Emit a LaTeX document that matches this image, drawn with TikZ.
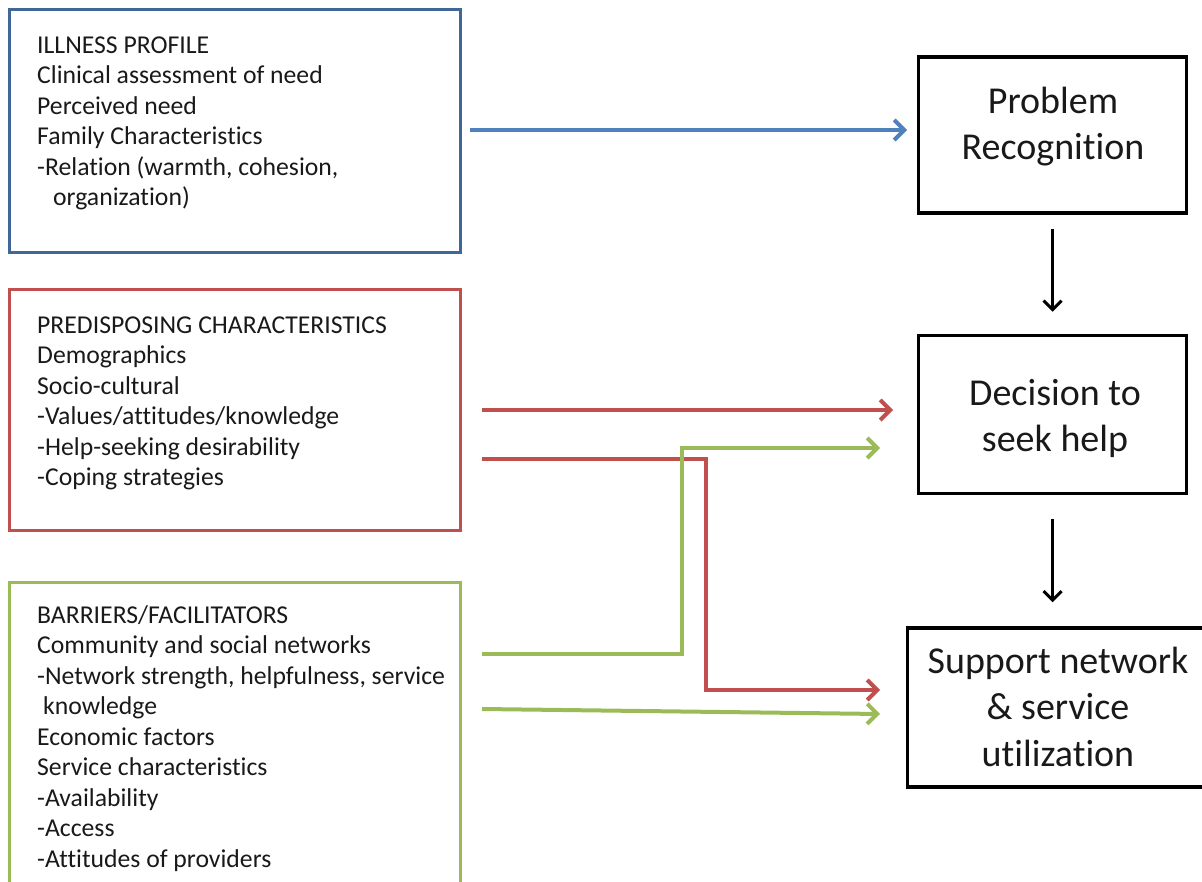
\documentclass[tikz,border=0pt]{standalone}
\usepackage{fontspec}
\setmainfont{Carlito}[Ligatures=NoCommon]
\usetikzlibrary{arrows.meta,calc}

\definecolor{illnessblue}{HTML}{3F6898}
\definecolor{arrowblue}{HTML}{4F81BD}
\definecolor{predred}{HTML}{C0504D}
\definecolor{barrgreen}{HTML}{9BBB59}

\tikzset{
  lbox/.style={rectangle, line width=3pt, anchor=north west, inner sep=0pt,
               minimum width=451pt},
  ltext/.style={anchor=north west, inner sep=0pt, align=left, text=black!90,
                font=\fontsize{25.7}{30.5}\selectfont},
  rbox/.style={rectangle, draw=black, line width=3.5pt, inner sep=0pt},
  rtext/.style={anchor=north, inner sep=0pt, align=center, text=black!90,
                font=\fontsize{38}{46.5}\selectfont},
  flow/.style={line width=4pt, -{Straight Barb[length=10pt,width=20pt]}},
  step arrow/.style={line width=3pt, draw=black, -{Straight Barb[length=9pt,width=18pt]}},
}

\begin{document}
\begin{tikzpicture}[x=1pt, y=-1pt]
\useasboundingbox (0,0) rectangle (1202,882);

% left-hand factor boxes
\node[lbox, draw=illnessblue, minimum height=243pt] (illness) at (8,8) {};
\node[ltext] (illnesstext) at (37,33)
  {\rule{0pt}{20pt}ILLNESS PROFILE\\
   Clinical assessment of need\\
   Perceived need\\
   Family Characteristics\\
   -Relation (warmth, cohesion,\\
   \hspace*{16pt}organization)};

\node[lbox, draw=predred, minimum height=241pt] (predis) at (8,288) {};
\node[ltext] (predistext) at (37,313)
  {\rule{0pt}{20pt}PREDISPOSING CHARACTERISTICS\\
   Demographics\\
   Socio-cultural\\
   -Values/attitudes/knowledge\\
   -Help-seeking desirability\\
   -Coping strategies};

\node[lbox, draw=barrgreen, minimum height=320pt] (barrier) at (8,581) {};
\node[ltext] (barriertext) at (37,603)
  {\rule{0pt}{20pt}BARRIERS/FACILITATORS\\
   Community and social networks\\
   -Network strength, helpfulness, service\\
   \hspace*{6pt}knowledge\\
   Economic factors\\
   Service characteristics\\
   -Availability\\
   -Access\\
   -Attitudes of providers};

% right-hand stages
\node[rbox, minimum width=268pt, minimum height=156pt] (problem) at (1052.5,135) {};
\node[rtext] (problemtext) at (1053,83)
  {\rule{0pt}{30pt}Problem\\Recognition};

\node[rbox, minimum width=268pt, minimum height=158pt] (decision) at (1052.5,414.5) {};
\node[rtext] (decisiontext) at (1055,375)
  {\rule{0pt}{30pt}Decision to\\seek help};

\node[rbox, minimum width=298pt, minimum height=159pt] (support) at (1056.5,707.5) {};
\node[rtext] (supporttext) at (1058,643)
  {\rule{0pt}{30pt}Support network\\\& service\\utilization};

% stage-to-stage arrows
\draw[step arrow] ($(problem.south)+(0,14)$) -- ($(problem.south |- decision.north)+(0,-22)$);
\draw[step arrow] ($(decision.south)+(0,24)$) -- ($(decision.south |- support.north)+(0,-24)$);

% connector end points
\coordinate (b0) at (470,130);
\coordinate (b1) at (907,130);
\coordinate (r0) at (482,410);
\coordinate (r1) at (893,410);
\coordinate (s0) at (482,459);
\coordinate (s1) at (706,459);
\coordinate (s2) at (706,690);
\coordinate (s3) at (880,690);
\coordinate (g0) at (482,654);
\coordinate (g1) at (682,654);
\coordinate (g2) at (682,448);
\coordinate (g3) at (880,448);
\coordinate (h0) at (482,709);
\coordinate (h1) at (880,714);

% factor arrows
\draw[flow, draw=arrowblue] (b0) -- (b1);
\draw[flow, draw=predred] (r0) -- (r1);
\draw[flow, draw=predred] (s0) -- (s1) -- (s2) -- (s3);
\draw[flow, draw=barrgreen] (g0) -- (g1) -- (g2) -- (g3);
\draw[flow, draw=barrgreen] (h0) -- (h1);
\end{tikzpicture}
\end{document}
